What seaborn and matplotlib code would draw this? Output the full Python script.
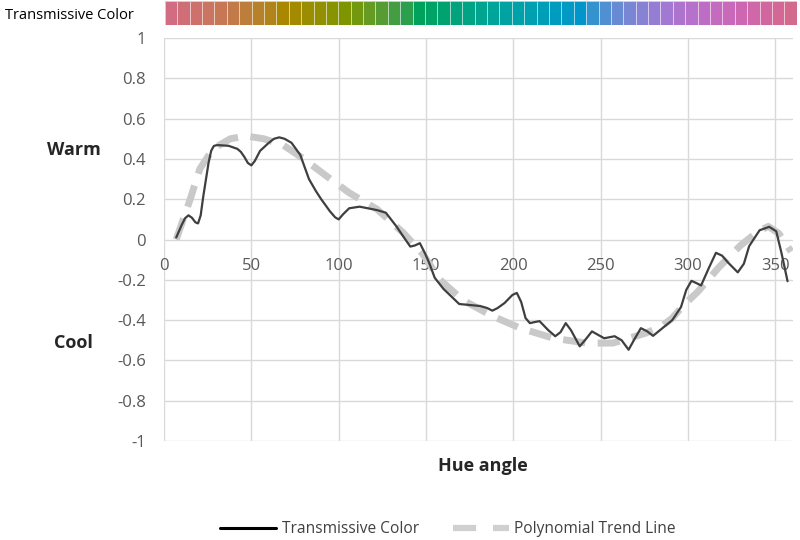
import numpy as np
import pandas as pd
import matplotlib
matplotlib.use('Agg')
import matplotlib.pyplot as plt
from matplotlib.colors import ListedColormap
from matplotlib.lines import Line2D
import seaborn as sns

sns.set_theme(style='white')
plt.rcParams['font.family'] = ['Open Sans', 'DejaVu Sans']

# measured curve (hue angle vs warm/cool score)
hue = [7, 10, 12, 14, 16, 18, 19.5, 21, 22.5, 25.5, 27, 28.5, 30, 32, 37, 42, 44, 46,
       48, 50, 52, 55, 60, 63, 66, 69, 73, 78, 83, 87, 90, 95, 98, 100, 102.5, 106, 112,
       122, 127, 133, 137, 141, 143.5, 146.5, 149.5, 152, 155, 160, 169, 181, 185, 188,
       191, 195, 199.5, 202, 204.5, 207, 209.5, 212, 215, 220, 224, 227, 230, 233, 238,
       241, 245, 252, 258, 262, 266, 269, 273, 276.5, 280, 291, 296, 299, 302, 304.5,
       307.5, 312, 316, 319.5, 323, 328.5, 332, 335, 341, 346.5, 350.5, 353.5, 357]
score = [0.01, 0.07, 0.105, 0.12, 0.108, 0.085, 0.08, 0.12, 0.215, 0.38, 0.44, 0.464,
         0.468, 0.468, 0.465, 0.45, 0.435, 0.41, 0.38, 0.368, 0.39, 0.44, 0.48, 0.5, 0.507,
         0.5, 0.48, 0.42, 0.3, 0.24, 0.2, 0.14, 0.11, 0.1, 0.125, 0.155, 0.163, 0.146,
         0.133, 0.066, 0.015, -0.035, -0.03, -0.018, -0.07, -0.12, -0.19, -0.245, -0.32,
         -0.33, -0.34, -0.353, -0.34, -0.315, -0.275, -0.265, -0.31, -0.39, -0.415,
         -0.41, -0.405, -0.45, -0.48, -0.46, -0.415, -0.45, -0.53, -0.5, -0.456, -0.49,
         -0.48, -0.5, -0.547, -0.5, -0.44, -0.455, -0.478, -0.4, -0.335, -0.25, -0.205,
         -0.215, -0.228, -0.14, -0.066, -0.08, -0.115, -0.163, -0.12, -0.033, 0.046,
         0.063, 0.041, -0.066, -0.207]

# polynomial trend line
trend_hue = [7, 15, 20.5, 28, 38, 47, 57, 68, 80, 93, 106, 122, 137, 148, 158, 171,
             188, 204, 223, 242, 257, 276, 285, 291, 297, 305.5, 318, 330, 340, 346,
             352, 359]
trend_score = [0.0, 0.2, 0.35, 0.45, 0.5, 0.514, 0.5, 0.47, 0.4, 0.315, 0.232, 0.15,
               0.033, -0.07, -0.2, -0.3, -0.38, -0.44, -0.49, -0.514, -0.514, -0.464,
               -0.43, -0.39, -0.33, -0.26, -0.135, -0.03, 0.04, 0.065, 0.03, -0.06]

n_swatches = 51
x_ticks = [0, 50, 100, 150, 200, 250, 300, 350]
y_ticks = [-1, -0.8, -0.6, -0.4, -0.2, 0, 0.2, 0.4, 0.6, 0.8, 1]


def lchuv_to_rgb(L, C, h):
    # constant lightness/chroma swatch colours (CIE LCh(uv) -> sRGB)
    hr = np.deg2rad(h)
    u, v = C * np.cos(hr), C * np.sin(hr)
    Y = ((L + 16) / 116) ** 3
    up = u / (13 * L) + 0.19784
    vp = v / (13 * L) + 0.46834
    X = Y * 9 * up / (4 * vp)
    Z = Y * (12 - 3 * up - 20 * vp) / (4 * vp)
    m = np.array([[3.2406, -1.5372, -0.4986],
                  [-0.9689, 1.8758, 0.0415],
                  [0.0557, -0.2040, 1.0570]])
    lin = np.clip(m @ np.array([X, Y, Z]), 0, 1)
    rgb = np.where(lin <= 0.0031308, 12.92 * lin, 1.055 * lin ** (1 / 2.4) - 0.055)
    return tuple(np.clip(rgb, 0, 1))


df = pd.DataFrame({'hue': hue, 'score': score})
df_trend = pd.DataFrame({'hue': trend_hue, 'score': trend_score})

fig = plt.figure(figsize=(8, 5.4), dpi=100)
ax = fig.add_axes([0.205, 0.1833, 0.786, 0.7463])

tick_col = '#595959'
grid_col = '#d9d9d9'

sns.lineplot(data=df_trend, x='hue', y='score', ax=ax, color='#c9c9c9', linewidth=5,
             linestyle=(0, (3.2, 1.8)), solid_capstyle='butt', dash_capstyle='butt')
sns.lineplot(data=df, x='hue', y='score', ax=ax, color='#3f3f3f', linewidth=1.6,
             solid_joinstyle='round')

ax.set_xlim(0, 360)
ax.set_ylim(-1, 1)
ax.set_xticks(x_ticks)
ax.set_yticks(y_ticks)
ax.set_yticklabels(['-1', '-0.8', '-0.6', '-0.4', '-0.2', '0', '0.2', '0.4', '0.6', '0.8', '1'])
ax.set_xlabel('')
ax.set_ylabel('')
ax.set_axisbelow(True)
ax.grid(True, color=grid_col, linewidth=1)
for s in ['top', 'right', 'left']:
    ax.spines[s].set_visible(False)
ax.spines['bottom'].set_position(('data', 0))
ax.spines['bottom'].set_visible(False)
ax.tick_params(axis='x', length=0, pad=13, labelsize=12, labelcolor=tick_col)
ax.tick_params(axis='y', length=0, pad=13, labelsize=12, labelcolor=tick_col)

# colour strip along the top
ax_strip = fig.add_axes([0.206, 0.954, 0.79, 0.044])
pal = [lchuv_to_rgb(58, 68, h) for h in np.linspace(0, 360, n_swatches, endpoint=False)]
sns.heatmap(np.arange(n_swatches)[None, :], cmap=ListedColormap(pal), cbar=False,
            linewidths=0.5, linecolor=(1, 1, 1, 0.6), xticklabels=False, yticklabels=False,
            ax=ax_strip)
fig.text(0.006, 0.972, 'Transmissive Color', fontsize=10.5, va='center', ha='left', color='#000000')

fig.text(0.092, 1 - 150 / 540, 'Warm', fontsize=13, fontweight='bold', ha='center', va='center')
fig.text(0.092, 1 - 343 / 540, 'Cool', fontsize=13, fontweight='bold', ha='center', va='center')
fig.text(483 / 800, 1 - 466 / 540, 'Hue angle', fontsize=13, fontweight='bold', ha='center', va='center')

handles = [Line2D([], [], color='#000000', linewidth=2.2),
           Line2D([], [], color='#d0d0d0', linewidth=4.5, linestyle=(0, (3.7, 2.7)))]
fig.legend(handles, ['Transmissive Color', 'Polynomial Trend Line'], loc='center',
           bbox_to_anchor=(448 / 800, 1 - 529 / 540), ncol=2, frameon=False,
           fontsize=11.2, handlelength=3.6, handletextpad=0.35, columnspacing=2.2,
           labelcolor='#404040')

fig.savefig('out.png', dpi=100)
